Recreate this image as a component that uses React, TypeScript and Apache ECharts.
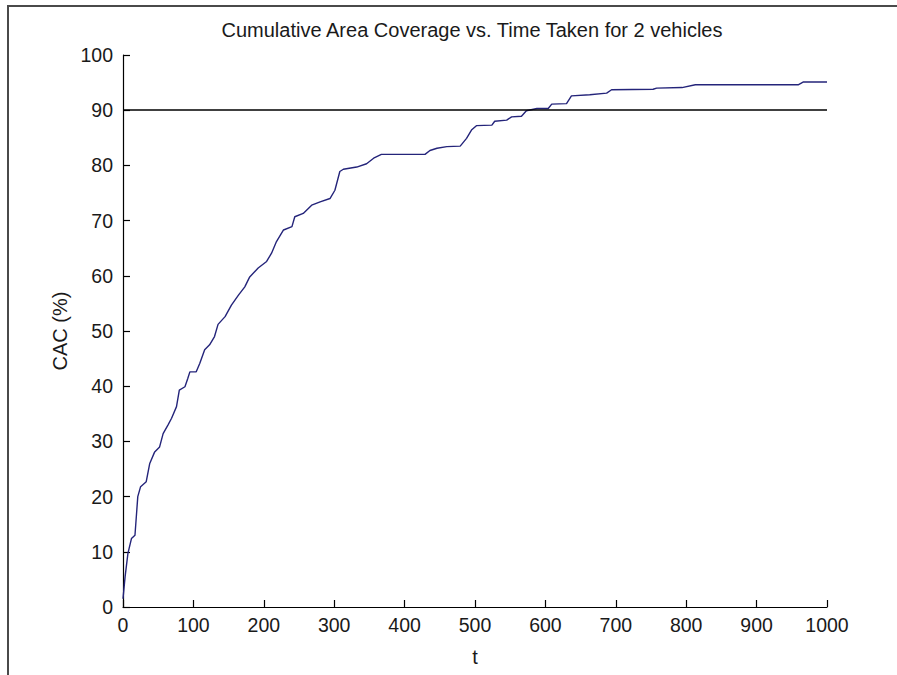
import React, { useEffect, useRef } from "react";
import * as echarts from "echarts";

const titleText = "Cumulative Area Coverage vs. Time Taken for 2 vehicles";
const xName = "t";
const yName = "CAC (%)";
const threshold = 90;

const tValues = [
  0, 3, 7, 12, 17, 21, 25, 33, 38, 45, 52, 57, 64, 69, 76, 80, 88, 92, 95, 104, 109, 116, 123, 130,
  135, 145, 154, 164, 173, 180, 192, 204, 211, 218, 228, 240, 244, 256, 268, 280, 294, 301, 308, 313,
  332, 346, 356, 367, 393, 429, 436, 446, 460, 479, 488, 495, 502, 524, 528, 545, 552, 566, 573, 588,
  604, 609, 630, 637, 663, 687, 694, 753, 758, 794, 813, 959, 966, 1000,
];
const cacValues = [
  1.5, 5.5, 9.7, 12.4, 13, 20, 21.8, 22.7, 26, 28.1, 29, 31.4, 33, 34.2, 36.3, 39.3, 39.9, 41.4, 42.6,
  42.6, 44.1, 46.6, 47.5, 49, 51.2, 52.6, 54.7, 56.5, 58, 59.8, 61.4, 62.6, 64.1, 66.2, 68.3, 68.9, 70.7,
  71.3, 72.8, 73.4, 74, 75.5, 78.9, 79.3, 79.7, 80.3, 81.3, 82, 82, 82, 82.7, 83.1, 83.4, 83.5, 84.9,
  86.4, 87.2, 87.3, 88, 88.2, 88.8, 88.9, 89.9, 90.3, 90.3, 91.1, 91.2, 92.6, 92.8, 93.1, 93.7, 93.8,
  94, 94.1, 94.6, 94.6, 95.1, 95.1,
];
const xRange = [0, 1000];
const yRange = [0, 100];

export default function App() {
  const ref = useRef<HTMLDivElement>(null);
  useEffect(() => {
    if (!ref.current) return;
    const chart = echarts.init(ref.current, null, { renderer: "svg" });
    const textFont = "'Liberation Sans', Arial, sans-serif";
    const axisCommon = {
      axisLine: { show: true, lineStyle: { color: "#000", width: 1.2 } },
      axisTick: { show: true, inside: true, length: 7, lineStyle: { color: "#000", width: 1.2 } },
      splitLine: { show: false },
      axisLabel: {
        color: "#1a1a1a",
        fontSize: 19.5,
        fontFamily: textFont,
        formatter: (v: number) => String(v),
      },
      nameTextStyle: { color: "#1a1a1a", fontSize: 20, fontFamily: textFont },
    };
    chart.setOption({
      animation: false,
      backgroundColor: "#fff",
      grid: { left: 123, right: 70, top: 55, bottom: 68, containLabel: false },
      xAxis: {
        type: "value",
        min: xRange[0],
        max: xRange[1],
        interval: 100,
        name: xName,
        nameLocation: "middle",
        nameGap: 40,
        ...axisCommon,
        axisLabel: { ...axisCommon.axisLabel, margin: 8 },
      },
      yAxis: {
        type: "value",
        min: yRange[0],
        max: yRange[1],
        interval: 10,
        name: yName,
        nameLocation: "middle",
        nameGap: 44,
        nameRotate: 90,
        ...axisCommon,
        axisLabel: { ...axisCommon.axisLabel, margin: 10 },
      },
      graphic: [
        {
          type: "rect",
          shape: { x: 8, y: 6, width: 1000, height: 1000 },
          style: { fill: "none", stroke: "#4a4a4a", lineWidth: 2 },
          silent: true,
        },
        {
          type: "text",
          x: 472,
          y: 30,
          style: {
            text: titleText,
            fill: "#1a1a1a",
            fontSize: 20,
            fontFamily: textFont,
            textAlign: "center",
            textVerticalAlign: "middle",
          },
        },
      ],
      series: [
        {
          name: "CAC",
          type: "line",
          data: tValues.map((t, i) => [t, cacValues[i]]),
          showSymbol: false,
          lineStyle: { color: "#24247a", width: 1.4 },
          markLine: {
            silent: true,
            symbol: "none",
            label: { show: false },
            lineStyle: { color: "#000", width: 1.5, type: "solid" },
            data: [[{ coord: [xRange[0], threshold] }, { coord: [xRange[1], threshold] }]],
          },
        },
      ],
    });
    return () => chart.dispose();
  }, []);
  return (
    <div
      ref={ref}
      style={{ position: "absolute", left: 0, top: 0, width: 897, height: 675 }}
    />
  );
}
